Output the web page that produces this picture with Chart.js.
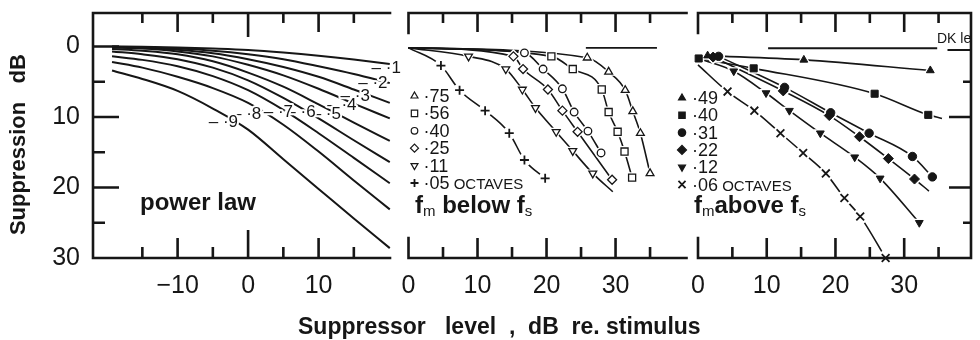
<!DOCTYPE html>
<html lang="en">
<head>
<meta charset="UTF-8">
<title>Suppression vs suppressor level</title>
<script src="https://cdn.jsdelivr.net/npm/chart.js"></script>
<style>
  body { margin: 0; background: #fff; }
  #fig { position: relative; width: 980px; height: 340px; overflow: hidden;
         font-family: "Liberation Sans", Arial, Helvetica, sans-serif; color: #161616; }
  #fig canvas { position: absolute; top: 0; }
  .lbl { position: absolute; white-space: pre; line-height: 1; }
  .cap { font-weight: bold; font-size: 24px; }
  .sub { font-size: 15px; font-weight: normal; position: relative; top: 3px; }
</style>
</head>
<body>
<div id="fig">
  <canvas id="p1" width="405" height="340" style="left:0"></canvas>
  <canvas id="p2" width="295" height="340" style="left:400px"></canvas>
  <canvas id="p3" width="305" height="340" style="left:675px"></canvas>

  <div class="lbl cap" style="left:140px; top:190px">power law</div>
  <div class="lbl cap" style="left:415px; top:193px">f<span class="sub">m</span> below f<span class="sub">s</span></div>
  <div class="lbl cap" style="left:694px; top:193px">f<span class="sub">m</span>above f<span class="sub">s</span></div>
  <div class="lbl" style="left:937px; top:31px; font-size:14px">DK le</div>
  <div class="lbl" style="left:298px; top:315px; font-size:23px; font-weight:bold">Suppressor   level  ,  dB  re. stimulus</div>
</div>

<script>
const ink = '#161616';
Chart.defaults.font.family = '"Liberation Sans", Arial, Helvetica, sans-serif';
Chart.defaults.color = ink;

// shared y axis (suppression, dB)
const yTickLabels = [0, 10, 20, 30];
const yMarksLeft = [0, 5, 10, 15, 20, 25];
const yMarksRight = [5, 10, 20, 25];

// panel 1: power law family
const powerX = [-19.3, -15, -10, -5, 0, 5, 10, 15, 20.1];
const power1 = [0.0, 0.05, 0.15, 0.3, 0.5, 0.85, 1.3, 1.85, 2.5];
const power2 = [0.05, 0.1, 0.3, 0.6, 1.1, 1.8, 2.8, 3.9, 5.2];
const power3 = [0.1, 0.2, 0.45, 0.95, 1.8, 2.9, 4.3, 6.1, 8.0];
const power4 = [0.15, 0.3, 0.7, 1.4, 2.6, 4.1, 6.0, 8.1, 10.2];
const power5 = [0.35, 0.6, 1.1, 2.1, 3.7, 5.7, 8.2, 10.8, 13.4];
const power6 = [0.7, 1.1, 1.8, 3.0, 4.8, 7.3, 10.2, 13.3, 16.4];
const power7 = [1.4, 1.9, 2.8, 4.2, 6.2, 9.0, 12.3, 15.8, 19.4];
const power8 = [2.2, 3.0, 4.3, 5.9, 8.0, 11.1, 14.9, 19.0, 23.1];
const power9 = [3.4, 4.6, 6.3, 8.8, 11.8, 16.0, 20.2, 24.4, 28.6];
const powerNames = ['·1', '·2', '·3', '·4', '·5', '·6', '·7', '·8', '·9'];
const powerLabelX = [19.6, 17.7, 15.2, 13.3, 11.1, 7.5, 4.3, -0.2, -3.5];
const powerLabelY = [3.05, 5.2, 7.1, 8.4, 9.6, 9.4, 9.4, 9.6, 10.8];
const p1XTickLabels = [-10, 0, 10];
const p1XMarks = [-15, -10, -5, 0, 5, 10, 15];

// panel 2: fm below fs (octaves)
const belowNames = ['·75', '·56', '·40', '·25', '·11', '·05'];
const belowStart = [0, 0.2];
const below75 = [[25.9, 1.6], [29.0, 3.6], [31.4, 6.2], [32.5, 9.2], [33.6, 12.3], [35.0, 18.0]];
const below56 = [[20.7, 1.4], [23.8, 3.2], [28.0, 6.1], [29.0, 9.3], [30.3, 12.1], [31.3, 14.9], [32.4, 18.6]];
const below40 = [[16.8, 0.9], [19.5, 3.2], [22.3, 6.0], [24.0, 9.3], [26.0, 12.0], [27.9, 15.1]];
const below25 = [[15.2, 1.4], [16.6, 3.2], [20.2, 6.1], [22.3, 9.1], [24.5, 12.1], [29.5, 18.9]];
const below11 = [[8.7, 1.4], [14.1, 3.2], [16.5, 6.1], [18.4, 8.7], [21.4, 12.1], [23.8, 14.8], [26.7, 18.0]];
const below11End = [29.6, 20.6];
const below05 = [[4.7, 2.7], [7.4, 6.2], [11.1, 9.1], [14.6, 12.3], [16.8, 16.1], [19.8, 18.7]];
const belowRef = [[25.7, 0.2], [36.0, 0.2]];
const p2XTickLabels = [0, 10, 20, 30];
const p2XMarks = [5, 10, 15, 20, 25, 30, 35];

// panel 3: fm above fs (octaves)
const aboveNames = ['·49', '·40', '·31', '·22', '·12', '·06'];
const above49 = [[1.4, 1.3], [15.4, 1.9], [33.8, 3.4]];
const above40 = [[0.1, 1.7], [8.1, 3.1], [25.7, 6.7], [33.5, 9.7]];
const above40End = [35.5, 10.2];
const above31 = [[3.0, 1.4], [12.6, 5.8], [19.3, 9.4], [24.9, 12.3], [31.2, 15.6], [34.1, 18.5]];
const above22 = [[2.2, 1.5], [12.4, 6.3], [19.1, 9.8], [23.5, 12.8], [27.7, 15.9], [31.5, 18.8]];
const above22End = [33.6, 20.5];
const above12Start = [0.4, 1.8];
const above12 = [[5.2, 3.5], [9.9, 6.6], [13.3, 9.1], [17.8, 12.3], [22.8, 15.7], [26.5, 18.7], [32.2, 25.0]];
const above06Start = [0, 2.6];
const above06 = [[4.3, 6.4], [8.2, 9.1], [12.0, 12.3], [15.3, 15.1], [18.6, 18.0], [21.3, 21.5], [23.6, 24.1], [27.3, 30.0]];
const aboveRef = [[10.2, 0.25], [34.8, 0.25], [35.5, null], [36.3, 0.5], [39.7, 0.5]];
const p3XTickLabels = [0, 10, 20, 30];
const p3XMarks = [5, 10, 15, 20, 25, 30, 35];

const belowLooks = [
  { style: 'triangle', r: 4.5 },
  { style: 'rect', r: 5 },
  { style: 'circle', r: 3.8 },
  { style: 'rectRot', r: 4.5 },
  { style: 'triangle', r: 4.5, rot: 180 },
  { style: 'cross', r: 4.5, bw: 1.8 }
];
const aboveLooks = [
  { style: 'triangle', r: 4.5, filled: true },
  { style: 'rect', r: 5, filled: true },
  { style: 'circle', r: 4.2, filled: true },
  { style: 'rectRot', r: 5, filled: true },
  { style: 'triangle', r: 4.5, rot: 180, filled: true },
  { style: 'crossRot', r: 5.5, bw: 1.8 }
];

const pts = a => a.map(p => ({ x: p[0], y: p[1] }));
const fontStack = '"Liberation Sans", Arial, Helvetica, sans-serif';

function markerSeries(marks, look, start, end) {
  const line = (start ? [start] : []).concat(marks, end ? [end] : []);
  const haloStyle = (look.style === 'cross' || look.style === 'crossRot') ? 'circle' : look.style;
  return [
    { data: pts(line), borderColor: ink, borderWidth: 1.6, pointRadius: 0,
      cubicInterpolationMode: 'monotone', order: 3, clip: 6 },
    { data: pts(marks), showLine: false, pointStyle: haloStyle, pointRotation: look.rot || 0,
      pointRadius: look.r + 1, pointBackgroundColor: '#fff', pointBorderColor: '#fff',
      pointBorderWidth: 2.5, order: 2, clip: 10 },
    { data: pts(marks), showLine: false, pointStyle: look.style, pointRotation: look.rot || 0,
      pointRadius: look.r, pointBackgroundColor: look.filled ? ink : '#fff', pointBorderColor: ink,
      pointBorderWidth: look.bw || (look.filled ? 1 : 1.3), order: 1, clip: 10 }
  ];
}

function refLine(a) {
  return { data: pts(a), borderColor: ink, borderWidth: 1.8, pointRadius: 0, spanGaps: false, order: 3 };
}

function xAxis(min, max, labels) {
  return {
    type: 'linear', position: 'bottom', min: min, max: max,
    grid: { display: false, drawTicks: false }, border: { display: false },
    afterBuildTicks: s => { s.ticks = labels.map(v => ({ value: v })); },
    afterFit: s => { s.height = 82; s.paddingLeft = 0; s.paddingRight = 0; },
    ticks: { font: { size: 25 }, padding: 13, maxRotation: 0, autoSkip: false,
             callback: v => v < 0 ? '\u2212' + (-v) : String(v) }
  };
}

function yAxis(show) {
  const ax = {
    type: 'linear', min: -4.75, max: 30, reverse: true, display: show,
    grid: { display: false, drawTicks: false }, border: { display: false },
    afterBuildTicks: s => { s.ticks = yTickLabels.map(v => ({ value: v })); },
    ticks: { font: { size: 25 }, padding: 13, autoSkip: false }
  };
  if (show) {
    ax.afterFit = s => { s.width = 93; s.paddingTop = 0; s.paddingBottom = 0; };
    ax.title = { display: true, text: 'Suppression   dB   ', font: { size: 22, weight: 'bold' },
                 padding: { top: 6, bottom: 0 } };
  }
  return ax;
}

// frame, inward tick marks, legend and curve labels
const notes = {
  id: 'notes',
  afterDatasetsDraw(chart, args, o) {
    const { ctx, chartArea: a, scales: { x, y } } = chart;
    ctx.save();
    ctx.strokeStyle = ink;
    ctx.lineWidth = 2.6;
    ctx.lineCap = 'square';
    ctx.beginPath();
    ctx.moveTo(a.left, a.top); ctx.lineTo(a.right, a.top);
    ctx.moveTo(a.left, a.bottom); ctx.lineTo(a.right, a.bottom);
    if (o.left === 'full') { ctx.moveTo(a.left, a.top); ctx.lineTo(a.left, a.bottom); }
    if (o.left === 'corner') {
      ctx.moveTo(a.left, a.top); ctx.lineTo(a.left, a.top + 20);
      ctx.moveTo(a.left, a.bottom); ctx.lineTo(a.left, a.bottom - 20);
    }
    if (o.right) { ctx.moveTo(a.right, a.top); ctx.lineTo(a.right, a.bottom); }
    ctx.stroke();

    ctx.lineCap = 'butt';
    ctx.beginPath();
    (o.xMarks || []).forEach(v => {
      const px = x.getPixelForValue(v);
      const major = v % 10 === 0;
      let up = major ? 19 : 10, down = major ? 20 : 11;
      if (o.zeroLong && v === 0) { up = 24; down = 28; }
      ctx.moveTo(px, a.top); ctx.lineTo(px, a.top + up);
      ctx.moveTo(px, a.bottom); ctx.lineTo(px, a.bottom - down);
    });
    (o.yLeft || []).forEach(v => {
      const py = y.getPixelForValue(v);
      ctx.moveTo(a.left, py); ctx.lineTo(a.left + (v % 10 === 0 ? 26 : 12), py);
    });
    (o.yRight || []).forEach(v => {
      const py = y.getPixelForValue(v);
      ctx.moveTo(a.right, py); ctx.lineTo(a.right - (v % 10 === 0 ? 22 : 8), py);
    });
    ctx.stroke();

    if (o.legend) {
      const L = o.legend;
      const drawPoint = Chart.helpers && Chart.helpers.drawPoint;
      L.names.forEach((name, i) => {
        const base = L.y0 + i * L.dy;
        const look = L.looks[i];
        ctx.fillStyle = look.filled ? ink : '#fff';
        ctx.strokeStyle = ink;
        ctx.lineWidth = look.bw || 1.2;
        if (drawPoint) {
          drawPoint(ctx, { pointStyle: look.style, radius: look.r - 0.5, rotation: look.rot || 0,
                           borderWidth: ctx.lineWidth }, a.left + L.sx, base - 6);
        }
        ctx.fillStyle = ink;
        ctx.textAlign = 'left';
        ctx.textBaseline = 'alphabetic';
        ctx.font = '18px ' + fontStack;
        const tx = a.left + L.tx;
        ctx.fillText(name, tx, base);
        if (i === L.names.length - 1) {
          const w = ctx.measureText(name).width;
          ctx.font = '15px ' + fontStack;
          ctx.fillText(' OCTAVES', tx + w, base);
        }
      });
    }

    if (o.curveLabels) {
      const C = o.curveLabels;
      ctx.font = '17px ' + fontStack;
      ctx.textAlign = 'center';
      ctx.textBaseline = 'middle';
      ctx.lineJoin = 'round';
      C.names.forEach((n, i) => {
        const t = '\u2013 ' + n;
        const px = x.getPixelForValue(C.xs[i]), py = y.getPixelForValue(C.ys[i]);
        ctx.lineWidth = 4; ctx.strokeStyle = '#fff';
        ctx.strokeText(t, px, py);
        ctx.fillStyle = ink;
        ctx.fillText(t, px, py);
      });
    }
    ctx.restore();
  }
};

const base = {
  responsive: false, animation: false, events: [],
  elements: { line: { fill: false } }
};
const quiet = { legend: { display: false }, tooltip: { enabled: false } };

// panel 1
const powerCurves = [power1, power2, power3, power4, power5, power6, power7, power8, power9];
new Chart(document.getElementById('p1'), {
  type: 'line',
  data: {
    datasets: powerCurves.map(c => ({
      data: powerX.map((x, i) => ({ x: x, y: c[i] })),
      borderColor: ink, borderWidth: 2, pointRadius: 0,
      cubicInterpolationMode: 'monotone', clip: 4
    }))
  },
  options: Object.assign({}, base, {
    layout: { padding: { top: 13, right: 15, bottom: 0, left: 0 } },
    scales: { x: xAxis(-22, 20.13, p1XTickLabels), y: yAxis(true) },
    plugins: Object.assign({}, quiet, {
      notes: { left: 'full', xMarks: p1XMarks, yLeft: yMarksLeft, zeroLong: true,
               curveLabels: { names: powerNames, xs: powerLabelX, ys: powerLabelY } }
    })
  }),
  plugins: [notes]
});

// panel 2
const belowSets = [below75, below56, below40, below25, below11, below05];
const belowEnds = [null, null, null, null, below11End, null];
new Chart(document.getElementById('p2'), {
  type: 'line',
  data: {
    datasets: [refLine(belowRef)].concat(
      ...belowSets.map((m, i) => markerSeries(m, belowLooks[i], belowStart, belowEnds[i])))
  },
  options: Object.assign({}, base, {
    layout: { padding: { top: 13, right: 5, bottom: 0, left: 6 } },
    scales: { x: xAxis(0, 40.28, p2XTickLabels), y: yAxis(false) },
    plugins: Object.assign({}, quiet, {
      notes: { left: 'corner', xMarks: p2XMarks,
               legend: { names: belowNames, looks: belowLooks, sx: 6, tx: 15, y0: 102, dy: 17.4 } }
    })
  }),
  plugins: [notes]
});

// panel 3
const aboveSets = [above49, above40, above31, above22, above12, above06];
const aboveStarts = [null, null, null, null, above12Start, above06Start];
const aboveEnds = [null, above40End, null, above22End, null, null];
new Chart(document.getElementById('p3'), {
  type: 'line',
  data: {
    datasets: [refLine(aboveRef)].concat(
      ...aboveSets.map((m, i) => markerSeries(m, aboveLooks[i], aboveStarts[i], aboveEnds[i])))
  },
  options: Object.assign({}, base, {
    layout: { padding: { top: 13, right: 2, bottom: 0, left: 23 } },
    scales: { x: xAxis(0, 39.72, p3XTickLabels), y: yAxis(false) },
    plugins: Object.assign({}, quiet, {
      notes: { left: 'corner', right: true, xMarks: p3XMarks, yRight: yMarksRight,
               legend: { names: aboveNames, looks: aboveLooks, sx: -16, tx: -6, y0: 104, dy: 17.3 } }
    })
  }),
  plugins: [notes]
});
</script>
</body>
</html>
